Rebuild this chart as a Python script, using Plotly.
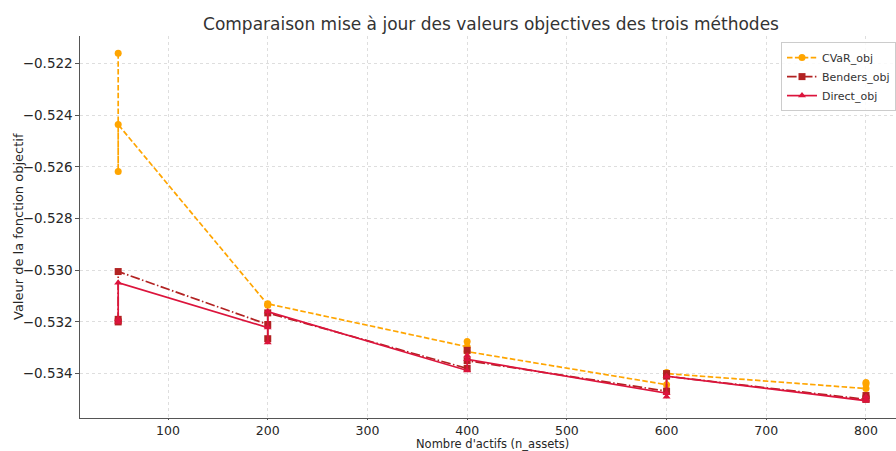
import plotly.graph_objects as go

n_assets = [50, 50, 50, 200, 200, 200, 400, 400, 400, 600, 600, 600, 800, 800, 800]

cvar_obj = [-0.52160, -0.52618, -0.52436,
            -0.53133, -0.53135, -0.53130,
            -0.53296, -0.53276, -0.53315,
            -0.53443, -0.53396, -0.53400,
            -0.53458, -0.53440, -0.53435]

benders_obj = [-0.53200, -0.53190, -0.53005,
               -0.53210, -0.53265, -0.53165,
               -0.53380, -0.53310, -0.53350,
               -0.53468, -0.53400, -0.53410,
               -0.53500, -0.53485, -0.53495]

direct_obj = [-0.53190, -0.53200, -0.53048,
              -0.53222, -0.53280, -0.53160,
              -0.53388, -0.53330, -0.53345,
              -0.53476, -0.53490, -0.53410,
              -0.53505, -0.53490, -0.53500]

x_ticks = [100, 200, 300, 400, 500, 600, 700, 800]

FONT = "DejaVu Sans"

fig = go.Figure()
fig.add_trace(go.Scatter(
    x=n_assets, y=cvar_obj, name="CVaR_obj", mode="lines+markers",
    line=dict(color="#FFA500", width=1.7, dash="5.5px,2.4px"),
    marker=dict(symbol="circle", size=7, color="#FFA500"),
))
fig.add_trace(go.Scatter(
    x=n_assets, y=benders_obj, name="Benders_obj", mode="lines+markers",
    line=dict(color="#B22222", width=1.7, dash="9.6px,2.4px,1.5px,2.4px"),
    marker=dict(symbol="square", size=7, color="#B22222"),
))
fig.add_trace(go.Scatter(
    x=n_assets, y=direct_obj, name="Direct_obj", mode="lines+markers",
    line=dict(color="#DC143C", width=1.7),
    marker=dict(symbol="triangle-up", size=7, color="#DC143C"),
))

fig.update_layout(
    width=896, height=451,
    margin=dict(l=80, r=0, t=36, b=33, autoexpand=False),
    paper_bgcolor="white", plot_bgcolor="white",
    font=dict(family=FONT, size=13, color="#262626"),
    title=dict(
        text="Comparaison mise à jour des valeurs objectives des trois méthodes",
        x=491 / 896, xanchor="center", y=1 - 24 / 451, yanchor="middle",
        font=dict(family=FONT, size=17, color="#333333"),
    ),
    showlegend=True,
    legend=dict(
        x=1.0, xanchor="right", y=0.984, yanchor="top",
        bgcolor="rgba(255,255,255,0.85)", bordercolor="#cccccc", borderwidth=1,
        font=dict(family=FONT, size=11, color="#333333"),
        itemwidth=30, tracegroupgap=0,
    ),
    annotations=[
        dict(text="Nombre d'actifs (n_assets)", xref="paper", yref="paper",
             x=(492 - 80) / 816, y=-(444 - 418) / 382, xanchor="center", yanchor="middle",
             borderpad=0,
             showarrow=False, font=dict(family=FONT, size=11.5, color="#262626")),
        dict(text="Valeur de la fonction objectif", xref="paper", yref="paper",
             x=-(80 - 18) / 816, y=0.5, xanchor="center", yanchor="middle", textangle=-90,
             showarrow=False, font=dict(family=FONT, size=13, color="#262626")),
    ],
)

fig.update_xaxes(
    range=[11.7, 830.1], automargin=False,
    tickmode="array", tickvals=x_ticks,
    showgrid=True, gridcolor="#dedede", griddash="dot", gridwidth=0.8,
    showline=True, linecolor="#555555", linewidth=1.2,
    ticks="outside", ticklen=0.5, tickcolor="#555555",
    zeroline=False,
    tickfont=dict(family=FONT, size=12.5, color="#262626"),
)
fig.update_yaxes(
    range=[-0.53572, -0.52093], automargin=False,
    tickmode="linear", tick0=-0.534, dtick=0.002, tickformat=".3f",
    showgrid=True, gridcolor="#dedede", griddash="dot", gridwidth=0.8,
    showline=True, linecolor="#555555", linewidth=1.2,
    ticks="outside", ticklen=3.5, tickcolor="#555555",
    zeroline=False,
    tickfont=dict(family=FONT, size=13.5, color="#262626"),
)

fig.write_html("out.html")
